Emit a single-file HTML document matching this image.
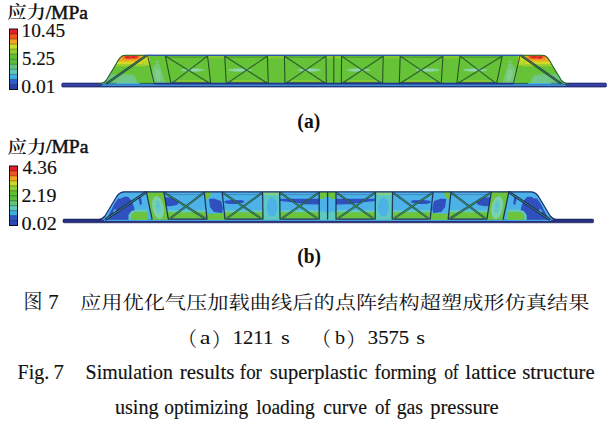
<!DOCTYPE html>
<html><head><meta charset="utf-8"><style>
html,body{margin:0;padding:0;background:#fff;width:608px;height:422px;overflow:hidden}
svg{display:block}
text{fill:#111}
</style></head><body>
<svg width="608" height="422" viewBox="0 0 608 422">
<rect width="608" height="422" fill="#fff"/>
<defs>
<linearGradient id="plateg" x1="0" y1="0" x2="0" y2="1"><stop offset="0" stop-color="#272d84"/><stop offset="0.5" stop-color="#3d49ad"/><stop offset="1" stop-color="#20256f"/></linearGradient>
<linearGradient id="plategb" x1="0" y1="0" x2="0" y2="1"><stop offset="0" stop-color="#1f2672"/><stop offset="0.5" stop-color="#2c3688"/><stop offset="1" stop-color="#1a1f60"/></linearGradient>
</defs>
<rect x="9.5" y="29.00" width="8" height="5.34" fill="#e3202a"/>
<rect x="9.5" y="34.04" width="8" height="5.34" fill="#ef5620"/>
<rect x="9.5" y="39.08" width="8" height="5.34" fill="#f4a420"/>
<rect x="9.5" y="44.12" width="8" height="5.34" fill="#c9dc2a"/>
<rect x="9.5" y="49.17" width="8" height="5.34" fill="#8fce30"/>
<rect x="9.5" y="54.21" width="8" height="5.34" fill="#62c034"/>
<rect x="9.5" y="59.25" width="8" height="5.34" fill="#5cbd3c"/>
<rect x="9.5" y="64.29" width="8" height="5.34" fill="#62c27a"/>
<rect x="9.5" y="69.33" width="8" height="5.34" fill="#5ec8bc"/>
<rect x="9.5" y="74.38" width="8" height="5.34" fill="#3faee6"/>
<rect x="9.5" y="79.42" width="8" height="5.34" fill="#2f5ccb"/>
<rect x="9.5" y="84.46" width="8" height="5.34" fill="#2a3fa6"/>
<line x1="9.5" x2="17.5" y1="34.04" y2="34.04" stroke="#000" stroke-opacity="0.45" stroke-width="0.7"/>
<line x1="9.5" x2="17.5" y1="39.08" y2="39.08" stroke="#000" stroke-opacity="0.45" stroke-width="0.7"/>
<line x1="9.5" x2="17.5" y1="44.12" y2="44.12" stroke="#000" stroke-opacity="0.45" stroke-width="0.7"/>
<line x1="9.5" x2="17.5" y1="49.17" y2="49.17" stroke="#000" stroke-opacity="0.45" stroke-width="0.7"/>
<line x1="9.5" x2="17.5" y1="54.21" y2="54.21" stroke="#000" stroke-opacity="0.45" stroke-width="0.7"/>
<line x1="9.5" x2="17.5" y1="59.25" y2="59.25" stroke="#000" stroke-opacity="0.45" stroke-width="0.7"/>
<line x1="9.5" x2="17.5" y1="64.29" y2="64.29" stroke="#000" stroke-opacity="0.45" stroke-width="0.7"/>
<line x1="9.5" x2="17.5" y1="69.33" y2="69.33" stroke="#000" stroke-opacity="0.45" stroke-width="0.7"/>
<line x1="9.5" x2="17.5" y1="74.38" y2="74.38" stroke="#000" stroke-opacity="0.45" stroke-width="0.7"/>
<line x1="9.5" x2="17.5" y1="79.42" y2="79.42" stroke="#000" stroke-opacity="0.45" stroke-width="0.7"/>
<line x1="9.5" x2="17.5" y1="84.46" y2="84.46" stroke="#000" stroke-opacity="0.45" stroke-width="0.7"/>
<rect x="9.5" y="29" width="8" height="60.5" fill="none" stroke="#111" stroke-width="1"/>
<rect x="9.5" y="166.00" width="8" height="5.26" fill="#e3202a"/>
<rect x="9.5" y="170.96" width="8" height="5.26" fill="#ef5620"/>
<rect x="9.5" y="175.92" width="8" height="5.26" fill="#f4a420"/>
<rect x="9.5" y="180.88" width="8" height="5.26" fill="#c9dc2a"/>
<rect x="9.5" y="185.83" width="8" height="5.26" fill="#8fce30"/>
<rect x="9.5" y="190.79" width="8" height="5.26" fill="#62c034"/>
<rect x="9.5" y="195.75" width="8" height="5.26" fill="#5cbd3c"/>
<rect x="9.5" y="200.71" width="8" height="5.26" fill="#62c27a"/>
<rect x="9.5" y="205.67" width="8" height="5.26" fill="#5ec8bc"/>
<rect x="9.5" y="210.62" width="8" height="5.26" fill="#3faee6"/>
<rect x="9.5" y="215.58" width="8" height="5.26" fill="#2f54c2"/>
<rect x="9.5" y="220.54" width="8" height="5.26" fill="#2b48b4"/>
<line x1="9.5" x2="17.5" y1="170.96" y2="170.96" stroke="#000" stroke-opacity="0.45" stroke-width="0.7"/>
<line x1="9.5" x2="17.5" y1="175.92" y2="175.92" stroke="#000" stroke-opacity="0.45" stroke-width="0.7"/>
<line x1="9.5" x2="17.5" y1="180.88" y2="180.88" stroke="#000" stroke-opacity="0.45" stroke-width="0.7"/>
<line x1="9.5" x2="17.5" y1="185.83" y2="185.83" stroke="#000" stroke-opacity="0.45" stroke-width="0.7"/>
<line x1="9.5" x2="17.5" y1="190.79" y2="190.79" stroke="#000" stroke-opacity="0.45" stroke-width="0.7"/>
<line x1="9.5" x2="17.5" y1="195.75" y2="195.75" stroke="#000" stroke-opacity="0.45" stroke-width="0.7"/>
<line x1="9.5" x2="17.5" y1="200.71" y2="200.71" stroke="#000" stroke-opacity="0.45" stroke-width="0.7"/>
<line x1="9.5" x2="17.5" y1="205.67" y2="205.67" stroke="#000" stroke-opacity="0.45" stroke-width="0.7"/>
<line x1="9.5" x2="17.5" y1="210.62" y2="210.62" stroke="#000" stroke-opacity="0.45" stroke-width="0.7"/>
<line x1="9.5" x2="17.5" y1="215.58" y2="215.58" stroke="#000" stroke-opacity="0.45" stroke-width="0.7"/>
<line x1="9.5" x2="17.5" y1="220.54" y2="220.54" stroke="#000" stroke-opacity="0.45" stroke-width="0.7"/>
<rect x="9.5" y="166" width="8" height="59.5" fill="none" stroke="#111" stroke-width="1"/>
<clipPath id="clipa"><path d="M98.00,84.00 C102.50,84.00 104.50,82.40 106.60,79.80 L116.40,63.40 C118.80,59.00 120.60,55.30 125.50,55.30 L542.10,55.30 C547.00,55.30 548.80,59.00 551.20,63.40 L561.00,79.80 C563.10,82.40 565.10,84.00 569.60,84.00 Z"/></clipPath>
<rect x="61.7" y="83.0" width="544.8" height="4.1" rx="1.2" fill="url(#plateg)" stroke="#1a2170" stroke-width="0.6"/>
<path d="M98.00,84.00 C102.50,84.00 104.50,82.40 106.60,79.80 L116.40,63.40 C118.80,59.00 120.60,55.30 125.50,55.30 L542.10,55.30 C547.00,55.30 548.80,59.00 551.20,63.40 L561.00,79.80 C563.10,82.40 565.10,84.00 569.60,84.00 Z" fill="#66c236"/>
<g clip-path="url(#clipa)"><g><polygon points="96.00,85.00 96.00,74.50 112.00,74.30 124.00,74.00 133.00,74.80 136.00,78.00 137.00,85.00" fill="#70c57c" fill-opacity="1" /><polygon points="116.00,84.00 121.00,77.00 131.00,76.00 136.00,79.00 137.00,84.00" fill="#6fc78e" fill-opacity="0.8" /><polygon points="100.00,54.00 146.00,54.00 146.00,66.30 100.00,66.30" fill="#9fcf2e" fill-opacity="1" /><polygon points="100.00,54.00 146.00,54.00 142.00,64.00 100.00,64.00" fill="#d4da28" fill-opacity="1" /><polygon points="100.00,54.00 145.50,54.00 141.00,61.60 100.00,61.60" fill="#f1a626" fill-opacity="1" /><polygon points="121.00,55.60 140.00,55.60 139.50,59.20 123.00,59.60" fill="#f07a24" fill-opacity="0.8" /><polygon points="124.20,56.00 138.30,56.00 137.00,58.60 126.00,58.80" fill="#e63a27" fill-opacity="1" /><ellipse cx="127.50" cy="57.60" rx="2.20" ry="1.00" fill="#d8201e" fill-opacity="0.8" transform="rotate(0 127.50 57.60)"/><ellipse cx="133.50" cy="57.20" rx="2.00" ry="0.90" fill="#d8201e" fill-opacity="0.7" transform="rotate(0 133.50 57.20)"/><polygon points="141.00,55.00 149.00,55.00 150.00,66.00 144.00,64.00" fill="#b9d82a" fill-opacity="1" /><polygon points="142.00,55.00 149.00,55.00 149.50,60.50 143.00,60.50" fill="#d0da28" fill-opacity="1" /><polygon points="152.50,83.00 151.50,74.00 153.00,67.00 156.00,63.50 159.50,64.00 161.50,70.00 163.50,77.00 165.50,83.00" fill="#78c97e" fill-opacity="0.85" /><ellipse cx="158.00" cy="75.00" rx="2.60" ry="6.50" fill="#86cf92" fill-opacity="0.8" transform="rotate(-10 158.00 75.00)"/><ellipse cx="157.50" cy="62.00" rx="1.50" ry="1.60" fill="#7fcc8a" fill-opacity="0.7" transform="rotate(0 157.50 62.00)"/><polygon points="176.90,80.00 204.70,80.30 207.70,82.80 173.90,82.80" fill="#a9d32e" fill-opacity="0.55" /><ellipse cx="192.50" cy="70.00" rx="12.00" ry="1.80" fill="#8ad2a6" fill-opacity="0.85" transform="rotate(0 192.50 70.00)"/><ellipse cx="193.70" cy="70.00" rx="6.00" ry="1.00" fill="#9ad8b8" fill-opacity="0.7" transform="rotate(0 193.70 70.00)"/><polygon points="232.30,80.00 262.30,80.30 265.30,82.80 229.30,82.80" fill="#a9d32e" fill-opacity="0.55" /><ellipse cx="240.05" cy="70.00" rx="12.00" ry="1.80" fill="#8ad2a6" fill-opacity="0.85" transform="rotate(0 240.05 70.00)"/><ellipse cx="238.85" cy="70.00" rx="6.00" ry="1.00" fill="#9ad8b8" fill-opacity="0.7" transform="rotate(0 238.85 70.00)"/><polygon points="291.00,80.00 320.30,80.30 323.30,82.80 288.00,82.80" fill="#a9d32e" fill-opacity="0.55" /><ellipse cx="309.20" cy="70.00" rx="12.00" ry="1.80" fill="#8ad2a6" fill-opacity="0.85" transform="rotate(0 309.20 70.00)"/><ellipse cx="310.00" cy="70.00" rx="6.00" ry="1.00" fill="#9ad8b8" fill-opacity="0.7" transform="rotate(0 310.00 70.00)"/><polygon points="207.60,55.00 224.70,55.00 224.70,58.50 207.60,58.50" fill="#a6d22c" fill-opacity="0.45" /><polygon points="267.40,55.00 284.40,55.00 284.40,58.50 267.40,58.50" fill="#a6d22c" fill-opacity="0.45" /><polygon points="326.00,55.00 334.00,55.00 334.00,58.50 326.00,58.50" fill="#9fd02c" fill-opacity="0.6" /></g><g transform="matrix(-1,0,0,1,667.60,0)"><polygon points="96.00,85.00 96.00,74.50 112.00,74.30 124.00,74.00 133.00,74.80 136.00,78.00 137.00,85.00" fill="#70c57c" fill-opacity="1" /><polygon points="116.00,84.00 121.00,77.00 131.00,76.00 136.00,79.00 137.00,84.00" fill="#6fc78e" fill-opacity="0.8" /><polygon points="100.00,54.00 146.00,54.00 146.00,66.30 100.00,66.30" fill="#9fcf2e" fill-opacity="1" /><polygon points="100.00,54.00 146.00,54.00 142.00,64.00 100.00,64.00" fill="#d4da28" fill-opacity="1" /><polygon points="100.00,54.00 145.50,54.00 141.00,61.60 100.00,61.60" fill="#f1a626" fill-opacity="1" /><polygon points="121.00,55.60 140.00,55.60 139.50,59.20 123.00,59.60" fill="#f07a24" fill-opacity="0.8" /><polygon points="124.20,56.00 138.30,56.00 137.00,58.60 126.00,58.80" fill="#e63a27" fill-opacity="1" /><ellipse cx="127.50" cy="57.60" rx="2.20" ry="1.00" fill="#d8201e" fill-opacity="0.8" transform="rotate(0 127.50 57.60)"/><ellipse cx="133.50" cy="57.20" rx="2.00" ry="0.90" fill="#d8201e" fill-opacity="0.7" transform="rotate(0 133.50 57.20)"/><polygon points="141.00,55.00 149.00,55.00 150.00,66.00 144.00,64.00" fill="#b9d82a" fill-opacity="1" /><polygon points="142.00,55.00 149.00,55.00 149.50,60.50 143.00,60.50" fill="#d0da28" fill-opacity="1" /><polygon points="152.50,83.00 151.50,74.00 153.00,67.00 156.00,63.50 159.50,64.00 161.50,70.00 163.50,77.00 165.50,83.00" fill="#78c97e" fill-opacity="0.85" /><ellipse cx="158.00" cy="75.00" rx="2.60" ry="6.50" fill="#86cf92" fill-opacity="0.8" transform="rotate(-10 158.00 75.00)"/><ellipse cx="157.50" cy="62.00" rx="1.50" ry="1.60" fill="#7fcc8a" fill-opacity="0.7" transform="rotate(0 157.50 62.00)"/><polygon points="176.90,80.00 204.70,80.30 207.70,82.80 173.90,82.80" fill="#a9d32e" fill-opacity="0.55" /><ellipse cx="192.50" cy="70.00" rx="12.00" ry="1.80" fill="#8ad2a6" fill-opacity="0.85" transform="rotate(0 192.50 70.00)"/><ellipse cx="193.70" cy="70.00" rx="6.00" ry="1.00" fill="#9ad8b8" fill-opacity="0.7" transform="rotate(0 193.70 70.00)"/><polygon points="232.30,80.00 262.30,80.30 265.30,82.80 229.30,82.80" fill="#a9d32e" fill-opacity="0.55" /><ellipse cx="240.05" cy="70.00" rx="12.00" ry="1.80" fill="#8ad2a6" fill-opacity="0.85" transform="rotate(0 240.05 70.00)"/><ellipse cx="238.85" cy="70.00" rx="6.00" ry="1.00" fill="#9ad8b8" fill-opacity="0.7" transform="rotate(0 238.85 70.00)"/><polygon points="291.00,80.00 320.30,80.30 323.30,82.80 288.00,82.80" fill="#a9d32e" fill-opacity="0.55" /><ellipse cx="309.20" cy="70.00" rx="12.00" ry="1.80" fill="#8ad2a6" fill-opacity="0.85" transform="rotate(0 309.20 70.00)"/><ellipse cx="310.00" cy="70.00" rx="6.00" ry="1.00" fill="#9ad8b8" fill-opacity="0.7" transform="rotate(0 310.00 70.00)"/><polygon points="207.60,55.00 224.70,55.00 224.70,58.50 207.60,58.50" fill="#a6d22c" fill-opacity="0.45" /><polygon points="267.40,55.00 284.40,55.00 284.40,58.50 267.40,58.50" fill="#a6d22c" fill-opacity="0.45" /><polygon points="326.00,55.00 334.00,55.00 334.00,58.50 326.00,58.50" fill="#9fd02c" fill-opacity="0.6" /></g></g>
<g><polygon points="171.90,81.60 178.90,82.60 171.90,83.50" fill="#48b4d8" fill-opacity="0.9" /><polygon points="227.30,81.60 234.30,82.60 227.30,83.50" fill="#48b4d8" fill-opacity="0.9" /><polygon points="286.00,81.60 293.00,82.60 286.00,83.50" fill="#48b4d8" fill-opacity="0.9" /><polygon points="104.00,82.90 154.10,82.90 154.10,84.60 104.00,84.60" fill="#45b2dc" fill-opacity="0.95" /><polygon points="154.10,82.80 333.90,82.80 333.90,84.70 154.10,84.70" fill="#26318f" fill-opacity="1" /><polygon points="102.00,84.60 333.90,84.60 333.90,85.90 102.00,85.90" fill="#3a8ed0" fill-opacity="1" /><polygon points="101.00,86.00 333.90,86.00 333.90,86.90 101.00,86.90" fill="#24418a" fill-opacity="1" /></g><g transform="matrix(-1,0,0,1,667.60,0)"><polygon points="171.90,81.60 178.90,82.60 171.90,83.50" fill="#48b4d8" fill-opacity="0.9" /><polygon points="227.30,81.60 234.30,82.60 227.30,83.50" fill="#48b4d8" fill-opacity="0.9" /><polygon points="286.00,81.60 293.00,82.60 286.00,83.50" fill="#48b4d8" fill-opacity="0.9" /><polygon points="104.00,82.90 154.10,82.90 154.10,84.60 104.00,84.60" fill="#45b2dc" fill-opacity="0.95" /><polygon points="154.10,82.80 333.90,82.80 333.90,84.70 154.10,84.70" fill="#26318f" fill-opacity="1" /><polygon points="102.00,84.60 333.90,84.60 333.90,85.90 102.00,85.90" fill="#3a8ed0" fill-opacity="1" /><polygon points="101.00,86.00 333.90,86.00 333.90,86.90 101.00,86.90" fill="#24418a" fill-opacity="1" /></g>
<g><line x1="147.70" y1="56.20" x2="154.10" y2="83.20" stroke="#1a3a24" stroke-width="1.05" stroke-opacity="0.85" stroke-linecap="round"/><line x1="165.40" y1="56.20" x2="170.90" y2="83.20" stroke="#1a3a24" stroke-width="1.05" stroke-opacity="0.85" stroke-linecap="round"/><line x1="207.60" y1="56.20" x2="210.70" y2="83.20" stroke="#1a3a24" stroke-width="1.05" stroke-opacity="0.85" stroke-linecap="round"/><line x1="224.70" y1="56.20" x2="226.30" y2="83.20" stroke="#1a3a24" stroke-width="1.05" stroke-opacity="0.85" stroke-linecap="round"/><line x1="267.40" y1="56.20" x2="268.30" y2="83.20" stroke="#1a3a24" stroke-width="1.05" stroke-opacity="0.85" stroke-linecap="round"/><line x1="284.40" y1="56.20" x2="285.00" y2="83.20" stroke="#1a3a24" stroke-width="1.05" stroke-opacity="0.85" stroke-linecap="round"/><line x1="326.00" y1="56.20" x2="326.30" y2="83.20" stroke="#1a3a24" stroke-width="1.05" stroke-opacity="0.85" stroke-linecap="round"/><line x1="166.40" y1="56.70" x2="209.70" y2="83.20" stroke="#1a3a24" stroke-width="1.25" stroke-opacity="0.8" stroke-linecap="round"/><line x1="206.60" y1="56.70" x2="171.90" y2="83.20" stroke="#1a3a24" stroke-width="1.1" stroke-opacity="0.75" stroke-linecap="round"/><line x1="166.40" y1="56.70" x2="209.70" y2="83.20" stroke="#3d8f3c" stroke-width="0.6" stroke-opacity="0.8" stroke-linecap="round"/><line x1="206.60" y1="56.70" x2="171.90" y2="83.20" stroke="#3d8f3c" stroke-width="0.6" stroke-opacity="0.8" stroke-linecap="round"/><line x1="166.20" y1="57.10" x2="206.80" y2="57.10" stroke="#1a3a24" stroke-width="0.8" stroke-opacity="0.45" stroke-linecap="round"/><line x1="172.40" y1="82.40" x2="209.20" y2="82.40" stroke="#1c2c60" stroke-width="0.9" stroke-opacity="0.7" stroke-linecap="round"/><line x1="225.70" y1="56.70" x2="267.30" y2="83.20" stroke="#1a3a24" stroke-width="1.25" stroke-opacity="0.8" stroke-linecap="round"/><line x1="266.40" y1="56.70" x2="227.30" y2="83.20" stroke="#1a3a24" stroke-width="1.1" stroke-opacity="0.75" stroke-linecap="round"/><line x1="225.70" y1="56.70" x2="267.30" y2="83.20" stroke="#3d8f3c" stroke-width="0.6" stroke-opacity="0.8" stroke-linecap="round"/><line x1="266.40" y1="56.70" x2="227.30" y2="83.20" stroke="#3d8f3c" stroke-width="0.6" stroke-opacity="0.8" stroke-linecap="round"/><line x1="225.50" y1="57.10" x2="266.60" y2="57.10" stroke="#1a3a24" stroke-width="0.8" stroke-opacity="0.45" stroke-linecap="round"/><line x1="227.80" y1="82.40" x2="266.80" y2="82.40" stroke="#1c2c60" stroke-width="0.9" stroke-opacity="0.7" stroke-linecap="round"/><line x1="285.40" y1="56.70" x2="325.30" y2="83.20" stroke="#1a3a24" stroke-width="1.25" stroke-opacity="0.8" stroke-linecap="round"/><line x1="325.00" y1="56.70" x2="286.00" y2="83.20" stroke="#1a3a24" stroke-width="1.1" stroke-opacity="0.75" stroke-linecap="round"/><line x1="285.40" y1="56.70" x2="325.30" y2="83.20" stroke="#3d8f3c" stroke-width="0.6" stroke-opacity="0.8" stroke-linecap="round"/><line x1="325.00" y1="56.70" x2="286.00" y2="83.20" stroke="#3d8f3c" stroke-width="0.6" stroke-opacity="0.8" stroke-linecap="round"/><line x1="285.20" y1="57.10" x2="325.20" y2="57.10" stroke="#1a3a24" stroke-width="0.8" stroke-opacity="0.45" stroke-linecap="round"/><line x1="286.50" y1="82.40" x2="324.80" y2="82.40" stroke="#1c2c60" stroke-width="0.9" stroke-opacity="0.7" stroke-linecap="round"/><line x1="107.00" y1="83.20" x2="145.80" y2="56.00" stroke="#1a3a24" stroke-width="2.3" stroke-opacity="0.9" stroke-linecap="round"/><line x1="107.00" y1="83.20" x2="145.80" y2="56.00" stroke="#3f8f9a" stroke-width="0.8" stroke-opacity="0.9" stroke-linecap="round"/><line x1="104.00" y1="83.20" x2="116.00" y2="83.20" stroke="#1a3a24" stroke-width="0.8" stroke-opacity="0.6" stroke-linecap="round"/><line x1="140.00" y1="83.40" x2="154.00" y2="83.40" stroke="#1a3a24" stroke-width="0.9" stroke-opacity="0.8" stroke-linecap="round"/></g><g transform="matrix(-1,0,0,1,667.60,0)"><line x1="147.70" y1="56.20" x2="154.10" y2="83.20" stroke="#1a3a24" stroke-width="1.05" stroke-opacity="0.85" stroke-linecap="round"/><line x1="165.40" y1="56.20" x2="170.90" y2="83.20" stroke="#1a3a24" stroke-width="1.05" stroke-opacity="0.85" stroke-linecap="round"/><line x1="207.60" y1="56.20" x2="210.70" y2="83.20" stroke="#1a3a24" stroke-width="1.05" stroke-opacity="0.85" stroke-linecap="round"/><line x1="224.70" y1="56.20" x2="226.30" y2="83.20" stroke="#1a3a24" stroke-width="1.05" stroke-opacity="0.85" stroke-linecap="round"/><line x1="267.40" y1="56.20" x2="268.30" y2="83.20" stroke="#1a3a24" stroke-width="1.05" stroke-opacity="0.85" stroke-linecap="round"/><line x1="284.40" y1="56.20" x2="285.00" y2="83.20" stroke="#1a3a24" stroke-width="1.05" stroke-opacity="0.85" stroke-linecap="round"/><line x1="326.00" y1="56.20" x2="326.30" y2="83.20" stroke="#1a3a24" stroke-width="1.05" stroke-opacity="0.85" stroke-linecap="round"/><line x1="166.40" y1="56.70" x2="209.70" y2="83.20" stroke="#1a3a24" stroke-width="1.25" stroke-opacity="0.8" stroke-linecap="round"/><line x1="206.60" y1="56.70" x2="171.90" y2="83.20" stroke="#1a3a24" stroke-width="1.1" stroke-opacity="0.75" stroke-linecap="round"/><line x1="166.40" y1="56.70" x2="209.70" y2="83.20" stroke="#3d8f3c" stroke-width="0.6" stroke-opacity="0.8" stroke-linecap="round"/><line x1="206.60" y1="56.70" x2="171.90" y2="83.20" stroke="#3d8f3c" stroke-width="0.6" stroke-opacity="0.8" stroke-linecap="round"/><line x1="166.20" y1="57.10" x2="206.80" y2="57.10" stroke="#1a3a24" stroke-width="0.8" stroke-opacity="0.45" stroke-linecap="round"/><line x1="172.40" y1="82.40" x2="209.20" y2="82.40" stroke="#1c2c60" stroke-width="0.9" stroke-opacity="0.7" stroke-linecap="round"/><line x1="225.70" y1="56.70" x2="267.30" y2="83.20" stroke="#1a3a24" stroke-width="1.25" stroke-opacity="0.8" stroke-linecap="round"/><line x1="266.40" y1="56.70" x2="227.30" y2="83.20" stroke="#1a3a24" stroke-width="1.1" stroke-opacity="0.75" stroke-linecap="round"/><line x1="225.70" y1="56.70" x2="267.30" y2="83.20" stroke="#3d8f3c" stroke-width="0.6" stroke-opacity="0.8" stroke-linecap="round"/><line x1="266.40" y1="56.70" x2="227.30" y2="83.20" stroke="#3d8f3c" stroke-width="0.6" stroke-opacity="0.8" stroke-linecap="round"/><line x1="225.50" y1="57.10" x2="266.60" y2="57.10" stroke="#1a3a24" stroke-width="0.8" stroke-opacity="0.45" stroke-linecap="round"/><line x1="227.80" y1="82.40" x2="266.80" y2="82.40" stroke="#1c2c60" stroke-width="0.9" stroke-opacity="0.7" stroke-linecap="round"/><line x1="285.40" y1="56.70" x2="325.30" y2="83.20" stroke="#1a3a24" stroke-width="1.25" stroke-opacity="0.8" stroke-linecap="round"/><line x1="325.00" y1="56.70" x2="286.00" y2="83.20" stroke="#1a3a24" stroke-width="1.1" stroke-opacity="0.75" stroke-linecap="round"/><line x1="285.40" y1="56.70" x2="325.30" y2="83.20" stroke="#3d8f3c" stroke-width="0.6" stroke-opacity="0.8" stroke-linecap="round"/><line x1="325.00" y1="56.70" x2="286.00" y2="83.20" stroke="#3d8f3c" stroke-width="0.6" stroke-opacity="0.8" stroke-linecap="round"/><line x1="285.20" y1="57.10" x2="325.20" y2="57.10" stroke="#1a3a24" stroke-width="0.8" stroke-opacity="0.45" stroke-linecap="round"/><line x1="286.50" y1="82.40" x2="324.80" y2="82.40" stroke="#1c2c60" stroke-width="0.9" stroke-opacity="0.7" stroke-linecap="round"/><line x1="107.00" y1="83.20" x2="145.80" y2="56.00" stroke="#1a3a24" stroke-width="2.3" stroke-opacity="0.9" stroke-linecap="round"/><line x1="107.00" y1="83.20" x2="145.80" y2="56.00" stroke="#3f8f9a" stroke-width="0.8" stroke-opacity="0.9" stroke-linecap="round"/><line x1="104.00" y1="83.20" x2="116.00" y2="83.20" stroke="#1a3a24" stroke-width="0.8" stroke-opacity="0.6" stroke-linecap="round"/><line x1="140.00" y1="83.40" x2="154.00" y2="83.40" stroke="#1a3a24" stroke-width="0.9" stroke-opacity="0.8" stroke-linecap="round"/></g>
<line x1="333.80" y1="56.10" x2="333.80" y2="83.30" stroke="#1a3a24" stroke-width="1.05" stroke-opacity="0.85" stroke-linecap="round"/>
<path d="M98.00,84.00 C102.50,84.00 104.50,82.40 106.60,79.80 L116.40,63.40 C118.80,59.00 120.60,55.30 125.50,55.30 L542.10,55.30 C547.00,55.30 548.80,59.00 551.20,63.40 L561.00,79.80 C563.10,82.40 565.10,84.00 569.60,84.00" fill="none" stroke="#1e5e2a" stroke-width="1.05"/>
<line x1="146" y1="55.35" x2="521.60" y2="55.35" stroke="#2d58b0" stroke-width="1.1"/>
<line x1="98" y1="86.6" x2="569.60" y2="86.6" stroke="#1d3a6a" stroke-width="0.7" opacity="0.8"/>
<clipPath id="clipb"><path d="M98.50,219.80 C101.50,219.80 103.00,218.30 105.00,216.00 L115.60,198.20 C117.60,194.40 119.60,191.80 124.00,191.80 L531.20,191.80 C535.60,191.80 537.60,194.40 539.60,198.20 L550.20,216.00 C552.20,218.30 553.70,219.80 556.70,219.80 Z"/></clipPath>
<rect x="63.0" y="219.1" width="530.6" height="3.7" rx="1.2" fill="url(#plategb)" stroke="#151c5c" stroke-width="0.6"/>
<path d="M98.50,219.80 C101.50,219.80 103.00,218.30 105.00,216.00 L115.60,198.20 C117.60,194.40 119.60,191.80 124.00,191.80 L531.20,191.80 C535.60,191.80 537.60,194.40 539.60,198.20 L550.20,216.00 C552.20,218.30 553.70,219.80 556.70,219.80 Z" fill="#4db2e8"/>
<g clip-path="url(#clipb)"><g><polygon points="106.50,221.00 107.50,217.50 108.80,214.40 111.70,209.30 114.70,203.30 118.20,198.40 121.00,198.60 124.00,196.80 128.00,196.80 131.00,200.00 133.00,204.00 134.50,209.00 133.00,214.00 130.00,217.00 128.00,221.00" fill="#3050c0" fill-opacity="1" /><polygon points="138.00,197.00 141.00,197.00 142.00,204.00 140.00,205.00 139.00,201.00" fill="#3050c0" fill-opacity="1" /><ellipse cx="114.50" cy="211.50" rx="1.20" ry="2.60" fill="#4db2e8" fill-opacity="1" transform="rotate(20 114.50 211.50)"/><polygon points="128.50,215.00 131.50,211.00 137.00,209.60 148.00,209.60 148.00,222.00 128.50,222.00" fill="#5fc9bf" fill-opacity="1" /><polygon points="131.00,215.00 134.50,212.00 148.00,211.80 148.00,222.00 131.00,222.00" fill="#6cc43c" fill-opacity="1" /><polygon points="146.50,191.00 164.00,191.00 168.30,220.00 152.00,220.00" fill="#6cc43c" fill-opacity="1" /><ellipse cx="158.00" cy="207.50" rx="5.60" ry="11.50" fill="#7dd0ae" fill-opacity="1" transform="rotate(-11 158.00 207.50)"/><ellipse cx="158.20" cy="206.50" rx="3.00" ry="7.00" fill="#66c9c4" fill-opacity="1" transform="rotate(-11 158.20 206.50)"/><ellipse cx="158.20" cy="206.00" rx="1.00" ry="1.20" fill="#55b8e0" fill-opacity="1" transform="rotate(0 158.20 206.00)"/><polygon points="166.30,210.00 209.00,210.00 209.00,213.00 166.30,213.00" fill="#5fc9bf" fill-opacity="1" /><polygon points="166.30,212.20 209.00,212.20 209.00,222.00 166.30,222.00" fill="#6cc43c" fill-opacity="1" /><polygon points="171.30,218.40 204.00,218.40 205.50,220.60 169.80,220.60" fill="#1f2a7e" fill-opacity="1" /><polygon points="164.50,197.30 171.00,197.60 176.00,199.00 179.50,201.50 177.00,205.00 170.00,206.30 166.00,206.00" fill="#3050c0" fill-opacity="1" /><polygon points="223.00,210.00 265.00,210.00 265.00,213.00 223.00,213.00" fill="#5fc9bf" fill-opacity="1" /><polygon points="223.00,212.20 265.00,212.20 265.00,222.00 223.00,222.00" fill="#6cc43c" fill-opacity="1" /><polygon points="228.00,218.40 260.00,218.40 261.50,220.60 226.50,220.60" fill="#1f2a7e" fill-opacity="1" /><ellipse cx="232.20" cy="202.00" rx="8.00" ry="2.00" fill="#3050c0" fill-opacity="1" transform="rotate(0 232.20 202.00)"/><ellipse cx="240.20" cy="201.50" rx="4.00" ry="1.50" fill="#3050c0" fill-opacity="1" transform="rotate(0 240.20 201.50)"/><polygon points="278.00,210.00 321.20,210.00 321.20,213.00 278.00,213.00" fill="#5fc9bf" fill-opacity="1" /><polygon points="278.00,212.20 321.20,212.20 321.20,222.00 278.00,222.00" fill="#6cc43c" fill-opacity="1" /><polygon points="283.00,218.40 316.20,218.40 317.70,220.60 281.50,220.60" fill="#1f2a7e" fill-opacity="1" /><polygon points="279.70,198.70 320.20,198.70 320.20,204.50 305.00,204.20 295.00,202.60 279.70,201.00" fill="#3050c0" fill-opacity="1" /><polygon points="204.30,191.00 222.20,191.00 225.00,220.00 207.00,220.00" fill="#4db2e8" fill-opacity="1" /><polygon points="204.30,191.00 212.00,191.00 210.00,197.00 205.50,200.00" fill="#6cc43c" fill-opacity="1" /><polygon points="209.00,199.00 214.00,198.50 221.00,201.00 223.00,208.00 222.00,213.00 214.00,212.00 210.00,207.00" fill="#3050c0" fill-opacity="1" /><polygon points="206.00,214.00 224.50,213.00 225.00,220.00 207.00,220.00" fill="#6cc43c" fill-opacity="1" /><polygon points="262.60,191.00 279.70,191.00 280.00,220.00 263.00,220.00" fill="#5fc9bf" fill-opacity="1" /><ellipse cx="272.00" cy="207.00" rx="5.50" ry="9.50" fill="#4db2e8" fill-opacity="1" transform="rotate(0 272.00 207.00)"/><polygon points="263.00,191.00 279.70,191.00 279.70,195.00 263.00,195.00" fill="#8ed07a" fill-opacity="0.8" /><polygon points="319.20,191.00 327.60,191.00 327.60,220.00 319.20,220.00" fill="#4db2e8" fill-opacity="1" /><polygon points="319.20,191.00 327.60,191.00 327.60,196.00 323.00,199.00 319.20,199.00" fill="#6cc43c" fill-opacity="1" /><polygon points="319.20,212.00 323.00,211.00 327.60,213.00 327.60,220.00 319.20,220.00" fill="#5fc9bf" fill-opacity="1" /></g><g transform="matrix(-1,0,0,1,655.20,0)"><polygon points="106.50,221.00 107.50,217.50 108.80,214.40 111.70,209.30 114.70,203.30 118.20,198.40 121.00,198.60 124.00,196.80 128.00,196.80 131.00,200.00 133.00,204.00 134.50,209.00 133.00,214.00 130.00,217.00 128.00,221.00" fill="#3050c0" fill-opacity="1" /><polygon points="138.00,197.00 141.00,197.00 142.00,204.00 140.00,205.00 139.00,201.00" fill="#3050c0" fill-opacity="1" /><ellipse cx="114.50" cy="211.50" rx="1.20" ry="2.60" fill="#4db2e8" fill-opacity="1" transform="rotate(20 114.50 211.50)"/><polygon points="128.50,215.00 131.50,211.00 137.00,209.60 148.00,209.60 148.00,222.00 128.50,222.00" fill="#5fc9bf" fill-opacity="1" /><polygon points="131.00,215.00 134.50,212.00 148.00,211.80 148.00,222.00 131.00,222.00" fill="#6cc43c" fill-opacity="1" /><polygon points="146.50,191.00 164.00,191.00 168.30,220.00 152.00,220.00" fill="#6cc43c" fill-opacity="1" /><ellipse cx="158.00" cy="207.50" rx="5.60" ry="11.50" fill="#7dd0ae" fill-opacity="1" transform="rotate(-11 158.00 207.50)"/><ellipse cx="158.20" cy="206.50" rx="3.00" ry="7.00" fill="#66c9c4" fill-opacity="1" transform="rotate(-11 158.20 206.50)"/><ellipse cx="158.20" cy="206.00" rx="1.00" ry="1.20" fill="#55b8e0" fill-opacity="1" transform="rotate(0 158.20 206.00)"/><polygon points="166.30,210.00 209.00,210.00 209.00,213.00 166.30,213.00" fill="#5fc9bf" fill-opacity="1" /><polygon points="166.30,212.20 209.00,212.20 209.00,222.00 166.30,222.00" fill="#6cc43c" fill-opacity="1" /><polygon points="171.30,218.40 204.00,218.40 205.50,220.60 169.80,220.60" fill="#1f2a7e" fill-opacity="1" /><polygon points="164.50,197.30 171.00,197.60 176.00,199.00 179.50,201.50 177.00,205.00 170.00,206.30 166.00,206.00" fill="#3050c0" fill-opacity="1" /><polygon points="223.00,210.00 265.00,210.00 265.00,213.00 223.00,213.00" fill="#5fc9bf" fill-opacity="1" /><polygon points="223.00,212.20 265.00,212.20 265.00,222.00 223.00,222.00" fill="#6cc43c" fill-opacity="1" /><polygon points="228.00,218.40 260.00,218.40 261.50,220.60 226.50,220.60" fill="#1f2a7e" fill-opacity="1" /><ellipse cx="232.20" cy="202.00" rx="8.00" ry="2.00" fill="#3050c0" fill-opacity="1" transform="rotate(0 232.20 202.00)"/><ellipse cx="240.20" cy="201.50" rx="4.00" ry="1.50" fill="#3050c0" fill-opacity="1" transform="rotate(0 240.20 201.50)"/><polygon points="278.00,210.00 321.20,210.00 321.20,213.00 278.00,213.00" fill="#5fc9bf" fill-opacity="1" /><polygon points="278.00,212.20 321.20,212.20 321.20,222.00 278.00,222.00" fill="#6cc43c" fill-opacity="1" /><polygon points="283.00,218.40 316.20,218.40 317.70,220.60 281.50,220.60" fill="#1f2a7e" fill-opacity="1" /><polygon points="279.70,198.70 320.20,198.70 320.20,204.50 305.00,204.20 295.00,202.60 279.70,201.00" fill="#3050c0" fill-opacity="1" /><polygon points="204.30,191.00 222.20,191.00 225.00,220.00 207.00,220.00" fill="#4db2e8" fill-opacity="1" /><polygon points="204.30,191.00 212.00,191.00 210.00,197.00 205.50,200.00" fill="#6cc43c" fill-opacity="1" /><polygon points="209.00,199.00 214.00,198.50 221.00,201.00 223.00,208.00 222.00,213.00 214.00,212.00 210.00,207.00" fill="#3050c0" fill-opacity="1" /><polygon points="206.00,214.00 224.50,213.00 225.00,220.00 207.00,220.00" fill="#6cc43c" fill-opacity="1" /><polygon points="262.60,191.00 279.70,191.00 280.00,220.00 263.00,220.00" fill="#5fc9bf" fill-opacity="1" /><ellipse cx="272.00" cy="207.00" rx="5.50" ry="9.50" fill="#4db2e8" fill-opacity="1" transform="rotate(0 272.00 207.00)"/><polygon points="263.00,191.00 279.70,191.00 279.70,195.00 263.00,195.00" fill="#8ed07a" fill-opacity="0.8" /><polygon points="319.20,191.00 327.60,191.00 327.60,220.00 319.20,220.00" fill="#4db2e8" fill-opacity="1" /><polygon points="319.20,191.00 327.60,191.00 327.60,196.00 323.00,199.00 319.20,199.00" fill="#6cc43c" fill-opacity="1" /><polygon points="319.20,212.00 323.00,211.00 327.60,213.00 327.60,220.00 319.20,220.00" fill="#5fc9bf" fill-opacity="1" /></g></g>
<rect x="104" y="220.0" width="447.20" height="1.0" fill="#45a6e0"/>
<g><line x1="146.50" y1="192.70" x2="152.00" y2="219.00" stroke="#1a2c50" stroke-width="1.3" stroke-opacity="0.9" stroke-linecap="round"/><line x1="164.00" y1="192.70" x2="168.30" y2="219.00" stroke="#1a2c50" stroke-width="1.3" stroke-opacity="0.9" stroke-linecap="round"/><line x1="204.30" y1="192.70" x2="207.00" y2="219.00" stroke="#1a2c50" stroke-width="1.3" stroke-opacity="0.9" stroke-linecap="round"/><line x1="222.20" y1="192.70" x2="225.00" y2="219.00" stroke="#1a2c50" stroke-width="1.3" stroke-opacity="0.9" stroke-linecap="round"/><line x1="262.60" y1="192.70" x2="263.00" y2="219.00" stroke="#1a2c50" stroke-width="1.3" stroke-opacity="0.9" stroke-linecap="round"/><line x1="279.70" y1="192.70" x2="280.00" y2="219.00" stroke="#1a2c50" stroke-width="1.3" stroke-opacity="0.9" stroke-linecap="round"/><line x1="319.20" y1="192.70" x2="319.20" y2="219.00" stroke="#1a2c50" stroke-width="1.3" stroke-opacity="0.9" stroke-linecap="round"/><line x1="165.00" y1="194.60" x2="203.30" y2="194.60" stroke="#3a78a8" stroke-width="0.9" stroke-opacity="0.75" stroke-linecap="round"/><line x1="165.00" y1="193.20" x2="206.00" y2="219.00" stroke="#1a2c50" stroke-width="2.1" stroke-opacity="0.8" stroke-linecap="round"/><line x1="203.30" y1="193.20" x2="169.30" y2="219.00" stroke="#1a2c50" stroke-width="2.1" stroke-opacity="0.8" stroke-linecap="round"/><line x1="165.00" y1="193.20" x2="206.00" y2="219.00" stroke="#3fa844" stroke-width="0.9" stroke-opacity="0.95" stroke-linecap="round"/><line x1="203.30" y1="193.20" x2="169.30" y2="219.00" stroke="#3fa844" stroke-width="0.9" stroke-opacity="0.95" stroke-linecap="round"/><line x1="223.20" y1="194.60" x2="261.60" y2="194.60" stroke="#3a78a8" stroke-width="0.9" stroke-opacity="0.75" stroke-linecap="round"/><line x1="223.20" y1="193.20" x2="262.00" y2="219.00" stroke="#1a2c50" stroke-width="2.1" stroke-opacity="0.8" stroke-linecap="round"/><line x1="261.60" y1="193.20" x2="226.00" y2="219.00" stroke="#1a2c50" stroke-width="2.1" stroke-opacity="0.8" stroke-linecap="round"/><line x1="223.20" y1="193.20" x2="262.00" y2="219.00" stroke="#3fa844" stroke-width="0.9" stroke-opacity="0.95" stroke-linecap="round"/><line x1="261.60" y1="193.20" x2="226.00" y2="219.00" stroke="#3fa844" stroke-width="0.9" stroke-opacity="0.95" stroke-linecap="round"/><line x1="280.70" y1="194.60" x2="318.20" y2="194.60" stroke="#3a78a8" stroke-width="0.9" stroke-opacity="0.75" stroke-linecap="round"/><line x1="280.70" y1="193.20" x2="318.20" y2="219.00" stroke="#1a2c50" stroke-width="2.1" stroke-opacity="0.8" stroke-linecap="round"/><line x1="318.20" y1="193.20" x2="281.00" y2="219.00" stroke="#1a2c50" stroke-width="2.1" stroke-opacity="0.8" stroke-linecap="round"/><line x1="280.70" y1="193.20" x2="318.20" y2="219.00" stroke="#3fa844" stroke-width="0.9" stroke-opacity="0.95" stroke-linecap="round"/><line x1="318.20" y1="193.20" x2="281.00" y2="219.00" stroke="#3fa844" stroke-width="0.9" stroke-opacity="0.95" stroke-linecap="round"/><line x1="106.00" y1="219.20" x2="145.80" y2="192.40" stroke="#1a2c50" stroke-width="2.6" stroke-opacity="0.95" stroke-linecap="round"/><line x1="106.00" y1="219.20" x2="145.80" y2="192.40" stroke="#3f9a7a" stroke-width="0.9" stroke-opacity="0.9" stroke-linecap="round"/></g><g transform="matrix(-1,0,0,1,655.20,0)"><line x1="146.50" y1="192.70" x2="152.00" y2="219.00" stroke="#1a2c50" stroke-width="1.3" stroke-opacity="0.9" stroke-linecap="round"/><line x1="164.00" y1="192.70" x2="168.30" y2="219.00" stroke="#1a2c50" stroke-width="1.3" stroke-opacity="0.9" stroke-linecap="round"/><line x1="204.30" y1="192.70" x2="207.00" y2="219.00" stroke="#1a2c50" stroke-width="1.3" stroke-opacity="0.9" stroke-linecap="round"/><line x1="222.20" y1="192.70" x2="225.00" y2="219.00" stroke="#1a2c50" stroke-width="1.3" stroke-opacity="0.9" stroke-linecap="round"/><line x1="262.60" y1="192.70" x2="263.00" y2="219.00" stroke="#1a2c50" stroke-width="1.3" stroke-opacity="0.9" stroke-linecap="round"/><line x1="279.70" y1="192.70" x2="280.00" y2="219.00" stroke="#1a2c50" stroke-width="1.3" stroke-opacity="0.9" stroke-linecap="round"/><line x1="319.20" y1="192.70" x2="319.20" y2="219.00" stroke="#1a2c50" stroke-width="1.3" stroke-opacity="0.9" stroke-linecap="round"/><line x1="165.00" y1="194.60" x2="203.30" y2="194.60" stroke="#3a78a8" stroke-width="0.9" stroke-opacity="0.75" stroke-linecap="round"/><line x1="165.00" y1="193.20" x2="206.00" y2="219.00" stroke="#1a2c50" stroke-width="2.1" stroke-opacity="0.8" stroke-linecap="round"/><line x1="203.30" y1="193.20" x2="169.30" y2="219.00" stroke="#1a2c50" stroke-width="2.1" stroke-opacity="0.8" stroke-linecap="round"/><line x1="165.00" y1="193.20" x2="206.00" y2="219.00" stroke="#3fa844" stroke-width="0.9" stroke-opacity="0.95" stroke-linecap="round"/><line x1="203.30" y1="193.20" x2="169.30" y2="219.00" stroke="#3fa844" stroke-width="0.9" stroke-opacity="0.95" stroke-linecap="round"/><line x1="223.20" y1="194.60" x2="261.60" y2="194.60" stroke="#3a78a8" stroke-width="0.9" stroke-opacity="0.75" stroke-linecap="round"/><line x1="223.20" y1="193.20" x2="262.00" y2="219.00" stroke="#1a2c50" stroke-width="2.1" stroke-opacity="0.8" stroke-linecap="round"/><line x1="261.60" y1="193.20" x2="226.00" y2="219.00" stroke="#1a2c50" stroke-width="2.1" stroke-opacity="0.8" stroke-linecap="round"/><line x1="223.20" y1="193.20" x2="262.00" y2="219.00" stroke="#3fa844" stroke-width="0.9" stroke-opacity="0.95" stroke-linecap="round"/><line x1="261.60" y1="193.20" x2="226.00" y2="219.00" stroke="#3fa844" stroke-width="0.9" stroke-opacity="0.95" stroke-linecap="round"/><line x1="280.70" y1="194.60" x2="318.20" y2="194.60" stroke="#3a78a8" stroke-width="0.9" stroke-opacity="0.75" stroke-linecap="round"/><line x1="280.70" y1="193.20" x2="318.20" y2="219.00" stroke="#1a2c50" stroke-width="2.1" stroke-opacity="0.8" stroke-linecap="round"/><line x1="318.20" y1="193.20" x2="281.00" y2="219.00" stroke="#1a2c50" stroke-width="2.1" stroke-opacity="0.8" stroke-linecap="round"/><line x1="280.70" y1="193.20" x2="318.20" y2="219.00" stroke="#3fa844" stroke-width="0.9" stroke-opacity="0.95" stroke-linecap="round"/><line x1="318.20" y1="193.20" x2="281.00" y2="219.00" stroke="#3fa844" stroke-width="0.9" stroke-opacity="0.95" stroke-linecap="round"/><line x1="106.00" y1="219.20" x2="145.80" y2="192.40" stroke="#1a2c50" stroke-width="2.6" stroke-opacity="0.95" stroke-linecap="round"/><line x1="106.00" y1="219.20" x2="145.80" y2="192.40" stroke="#3f9a7a" stroke-width="0.9" stroke-opacity="0.9" stroke-linecap="round"/></g>
<line x1="327.60" y1="192.60" x2="327.60" y2="219.10" stroke="#1a2c50" stroke-width="1.3" stroke-opacity="0.9" stroke-linecap="round"/>
<path d="M98.50,219.80 C101.50,219.80 103.00,218.30 105.00,216.00 L115.60,198.20 C117.60,194.40 119.60,191.80 124.00,191.80 L531.20,191.80 C535.60,191.80 537.60,194.40 539.60,198.20 L550.20,216.00 C552.20,218.30 553.70,219.80 556.70,219.80" fill="none" stroke="#1d2a6e" stroke-width="1.2"/>
<text x="7.20" y="18.00" textLength="38.61" lengthAdjust="spacingAndGlyphs" style="font-family:'Noto Serif CJK SC',serif;font-weight:600;font-size:17.60px">应力</text>
<text x="45.70" y="18.60" textLength="42.19" lengthAdjust="spacingAndGlyphs" stroke="#111" stroke-width="0.5" style="font-family:'Liberation Serif',serif;font-weight:normal;font-size:19.00px">/MPa</text>
<text x="7.60" y="152.70" textLength="38.61" lengthAdjust="spacingAndGlyphs" style="font-family:'Noto Serif CJK SC',serif;font-weight:600;font-size:17.60px">应力</text>
<text x="46.00" y="152.80" textLength="42.49" lengthAdjust="spacingAndGlyphs" stroke="#111" stroke-width="0.5" style="font-family:'Liberation Serif',serif;font-weight:normal;font-size:19.00px">/MPa</text>
<text x="21.52" y="36.80" textLength="43.56" lengthAdjust="spacingAndGlyphs" stroke="#111" stroke-width="0.15" style="font-family:'Liberation Serif',serif;font-weight:normal;font-size:18.60px">10.45</text>
<text x="21.98" y="64.90" textLength="33.07" lengthAdjust="spacingAndGlyphs" stroke="#111" stroke-width="0.15" style="font-family:'Liberation Serif',serif;font-weight:normal;font-size:18.60px">5.25</text>
<text x="21.25" y="92.90" textLength="34.28" lengthAdjust="spacingAndGlyphs" stroke="#111" stroke-width="0.15" style="font-family:'Liberation Serif',serif;font-weight:normal;font-size:18.60px">0.01</text>
<text x="22.60" y="173.60" textLength="34.17" lengthAdjust="spacingAndGlyphs" stroke="#111" stroke-width="0.15" style="font-family:'Liberation Serif',serif;font-weight:normal;font-size:18.60px">4.36</text>
<text x="21.53" y="201.60" textLength="34.96" lengthAdjust="spacingAndGlyphs" stroke="#111" stroke-width="0.15" style="font-family:'Liberation Serif',serif;font-weight:normal;font-size:18.60px">2.19</text>
<text x="21.52" y="229.90" textLength="35.28" lengthAdjust="spacingAndGlyphs" stroke="#111" stroke-width="0.15" style="font-family:'Liberation Serif',serif;font-weight:normal;font-size:18.60px">0.02</text>
<text x="297.36" y="127.90" textLength="22.82" lengthAdjust="spacingAndGlyphs" style="font-family:'Liberation Serif',serif;font-weight:bold;font-size:20.80px">(a)</text>
<text x="297.37" y="262.90" textLength="23.73" lengthAdjust="spacingAndGlyphs" style="font-family:'Liberation Serif',serif;font-weight:bold;font-size:20.80px">(b)</text>
<text x="23.53" y="309.10" textLength="18.95" lengthAdjust="spacingAndGlyphs" style="font-family:'Noto Serif CJK SC',serif;font-weight:normal;font-size:20.25px">图</text>
<text x="48.29" y="309.00" textLength="10.41" lengthAdjust="spacingAndGlyphs" stroke="#111" stroke-width="0.15" style="font-family:'Liberation Serif',serif;font-weight:normal;font-size:20.60px">7</text>
<text x="79.95" y="308.60" textLength="509.61" lengthAdjust="spacingAndGlyphs" style="font-family:'Noto Serif CJK SC',serif;font-weight:normal;font-size:18.51px">应用优化气压加载曲线后的点阵结构超塑成形仿真结果</text>
<text x="178.17" y="345.90" textLength="18.67" lengthAdjust="spacingAndGlyphs" style="font-family:'Noto Serif CJK SC',serif;font-weight:normal;font-size:20.00px">（</text>
<text x="199.67" y="343.90" textLength="10.69" lengthAdjust="spacingAndGlyphs" style="font-family:'Liberation Serif',serif;font-weight:normal;font-size:19.60px">a</text>
<text x="211.97" y="346.90" textLength="18.67" lengthAdjust="spacingAndGlyphs" style="font-family:'Noto Serif CJK SC',serif;font-weight:normal;font-size:20.00px">）</text>
<text x="232.82" y="343.60" textLength="40.34" lengthAdjust="spacingAndGlyphs" stroke="#111" stroke-width="0.15" style="font-family:'Liberation Serif',serif;font-weight:normal;font-size:19.80px">1211</text>
<text x="280.95" y="343.80" textLength="8.79" lengthAdjust="spacingAndGlyphs" stroke="#111" stroke-width="0.05" style="font-family:'Liberation Serif',serif;font-weight:normal;font-size:19.60px">s</text>
<text x="312.17" y="345.90" textLength="18.67" lengthAdjust="spacingAndGlyphs" style="font-family:'Noto Serif CJK SC',serif;font-weight:normal;font-size:20.00px">（</text>
<text x="334.90" y="343.90" textLength="10.12" lengthAdjust="spacingAndGlyphs" style="font-family:'Liberation Serif',serif;font-weight:normal;font-size:19.60px">b</text>
<text x="346.55" y="346.90" textLength="19.00" lengthAdjust="spacingAndGlyphs" style="font-family:'Noto Serif CJK SC',serif;font-weight:normal;font-size:20.00px">）</text>
<text x="367.86" y="344.10" textLength="41.33" lengthAdjust="spacingAndGlyphs" stroke="#111" stroke-width="0.15" style="font-family:'Liberation Serif',serif;font-weight:normal;font-size:19.80px">3575</text>
<text x="416.15" y="343.80" textLength="8.79" lengthAdjust="spacingAndGlyphs" stroke="#111" stroke-width="0.05" style="font-family:'Liberation Serif',serif;font-weight:normal;font-size:19.60px">s</text>
<text x="17.62" y="378.90" textLength="31.60" lengthAdjust="spacingAndGlyphs" stroke="#111" stroke-width="0.15" style="font-family:'Liberation Serif',serif;font-weight:normal;font-size:20.30px">Fig.</text>
<text x="53.48" y="378.90" textLength="10.37" lengthAdjust="spacingAndGlyphs" stroke="#111" stroke-width="0.15" style="font-family:'Liberation Serif',serif;font-weight:normal;font-size:20.30px">7</text>
<text x="85.62" y="378.90" textLength="87.31" lengthAdjust="spacingAndGlyphs" stroke="#111" stroke-width="0.15" style="font-family:'Liberation Serif',serif;font-weight:normal;font-size:20.30px">Simulation</text>
<text x="179.77" y="378.90" textLength="54.61" lengthAdjust="spacingAndGlyphs" stroke="#111" stroke-width="0.15" style="font-family:'Liberation Serif',serif;font-weight:normal;font-size:20.30px">results</text>
<text x="239.87" y="378.90" textLength="22.01" lengthAdjust="spacingAndGlyphs" stroke="#111" stroke-width="0.15" style="font-family:'Liberation Serif',serif;font-weight:normal;font-size:20.30px">for</text>
<text x="269.89" y="378.90" textLength="97.59" lengthAdjust="spacingAndGlyphs" stroke="#111" stroke-width="0.15" style="font-family:'Liberation Serif',serif;font-weight:normal;font-size:20.30px">superplastic</text>
<text x="374.55" y="378.90" textLength="61.87" lengthAdjust="spacingAndGlyphs" stroke="#111" stroke-width="0.15" style="font-family:'Liberation Serif',serif;font-weight:normal;font-size:20.30px">forming</text>
<text x="444.14" y="378.90" textLength="14.58" lengthAdjust="spacingAndGlyphs" stroke="#111" stroke-width="0.15" style="font-family:'Liberation Serif',serif;font-weight:normal;font-size:20.30px">of</text>
<text x="465.37" y="378.90" textLength="50.89" lengthAdjust="spacingAndGlyphs" stroke="#111" stroke-width="0.15" style="font-family:'Liberation Serif',serif;font-weight:normal;font-size:20.30px">lattice</text>
<text x="522.28" y="378.90" textLength="72.39" lengthAdjust="spacingAndGlyphs" stroke="#111" stroke-width="0.15" style="font-family:'Liberation Serif',serif;font-weight:normal;font-size:20.30px">structure</text>
<text x="114.90" y="414.20" textLength="43.75" lengthAdjust="spacingAndGlyphs" stroke="#111" stroke-width="0.15" style="font-family:'Liberation Serif',serif;font-weight:normal;font-size:20.30px">using</text>
<text x="164.35" y="414.20" textLength="83.75" lengthAdjust="spacingAndGlyphs" stroke="#111" stroke-width="0.15" style="font-family:'Liberation Serif',serif;font-weight:normal;font-size:20.30px">optimizing</text>
<text x="256.34" y="414.20" textLength="58.31" lengthAdjust="spacingAndGlyphs" stroke="#111" stroke-width="0.15" style="font-family:'Liberation Serif',serif;font-weight:normal;font-size:20.30px">loading</text>
<text x="323.13" y="414.20" textLength="43.82" lengthAdjust="spacingAndGlyphs" stroke="#111" stroke-width="0.15" style="font-family:'Liberation Serif',serif;font-weight:normal;font-size:20.30px">curve</text>
<text x="374.98" y="414.20" textLength="15.64" lengthAdjust="spacingAndGlyphs" stroke="#111" stroke-width="0.15" style="font-family:'Liberation Serif',serif;font-weight:normal;font-size:20.30px">of</text>
<text x="396.73" y="414.20" textLength="26.32" lengthAdjust="spacingAndGlyphs" stroke="#111" stroke-width="0.15" style="font-family:'Liberation Serif',serif;font-weight:normal;font-size:20.30px">gas</text>
<text x="430.19" y="414.20" textLength="68.50" lengthAdjust="spacingAndGlyphs" stroke="#111" stroke-width="0.15" style="font-family:'Liberation Serif',serif;font-weight:normal;font-size:20.30px">pressure</text>
</svg>
</body></html>
